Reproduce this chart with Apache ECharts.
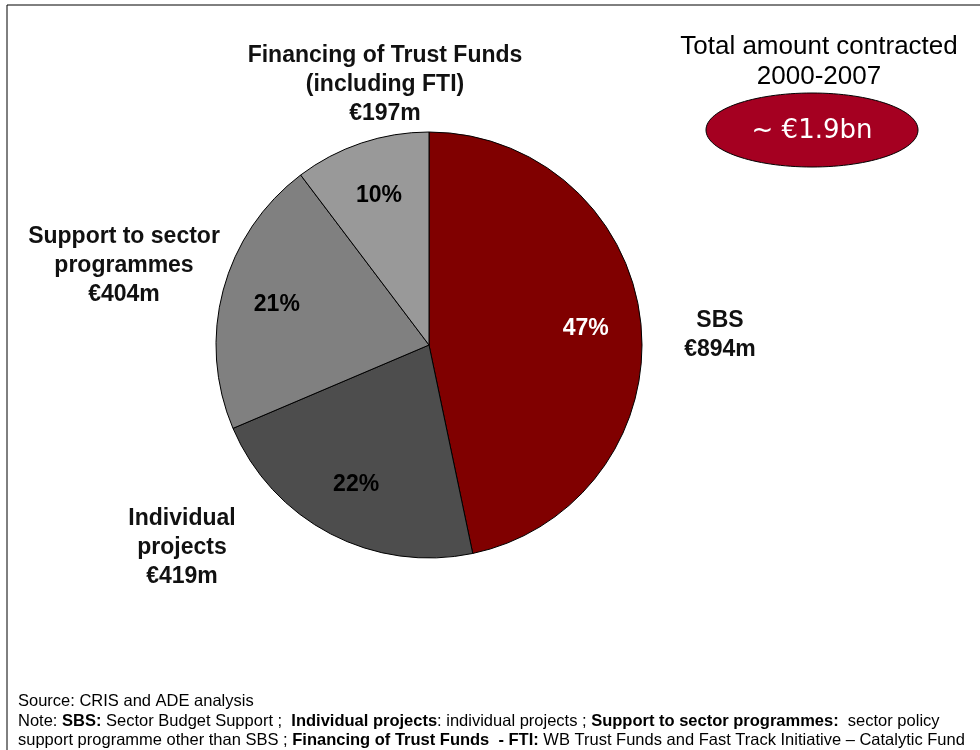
<!DOCTYPE html>
<html>
<head>
<meta charset="utf-8">
<script src="https://cdn.jsdelivr.net/npm/echarts@6/dist/echarts.min.js"></script>
<style>
  html, body { margin: 0; padding: 0; background: #fff; }
  #main { width: 980px; height: 750px; }
</style>
</head>
<body>
<div id="main"></div>
<script>
// contracted amounts 2000-2007, in € million
const categories = ['SBS', 'Individual projects', 'Support to sector programmes', 'Financing of Trust Funds (including FTI)']
const amounts = [894, 419, 404, 197]
const sliceColors = ['#800000', '#4d4d4d', '#808080', '#999999']
const totalLabel = '~ €1.9bn'

const chart = echarts.init(document.getElementById('main'))
const font = '"Liberation Sans", Arial, sans-serif'

const pieData = categories.map((name, i) => ({
    name: name,
    value: amounts[i],
    itemStyle: { color: sliceColors[i] },
}))

// same values, no colour, only to carry the percentage labels
const labelData = categories.map((name, i) => ({
    name: name,
    value: amounts[i],
    label: { color: i === 0 ? '#ffffff' : '#000000' },
}))

function boldLabel(text, x, y) {
    return {
        type: 'text',
        x: x,
        y: y,
        style: {
            text: text,
            font: 'bold 23px ' + font,
            fill: '#111',
            align: 'center',
            verticalAlign: 'middle',
            lineHeight: 29,
        },
    }
}

let option = {
    backgroundColor: '#ffffff',
    animation: false,
    series: [
        {
            type: 'pie',
            center: [429, 345],
            radius: [0, 213],
            startAngle: 90,
            clockwise: true,
            data: pieData,
            itemStyle: { borderColor: '#000', borderWidth: 1 },
            label: { show: false },
            labelLine: { show: false },
            emphasis: { disabled: true },
        },
        {
            type: 'pie',
            center: [429, 345],
            radius: [96, 213],
            startAngle: 90,
            silent: true,
            data: labelData,
            itemStyle: { color: 'rgba(0,0,0,0)', borderWidth: 0 },
            label: {
                show: true,
                position: 'inside',
                fontFamily: font,
                fontWeight: 'bold',
                fontSize: 23,
                formatter: (p) => Math.round(p.percent) + '%',
            },
            labelLine: { show: false },
        },
    ],
    graphic: [
        {
            type: 'rect',
            shape: { x: 7, y: 5, width: 1000, height: 800 },
            style: { fill: 'none', stroke: '#000', lineWidth: 1 },
            silent: true,
        },
        boldLabel('Financing of Trust Funds\n(including FTI)\n€' + amounts[3] + 'm', 385, 85),
        boldLabel('Support to sector\nprogrammes\n€' + amounts[2] + 'm', 124, 266),
        boldLabel('Individual\nprojects\n€' + amounts[1] + 'm', 182, 548),
        boldLabel(categories[0] + '\n€' + amounts[0] + 'm', 720, 335),
        {
            type: 'text',
            x: 819,
            y: 62,
            style: {
                text: 'Total amount contracted\n2000-2007',
                font: '26px ' + font,
                fill: '#000',
                align: 'center',
                verticalAlign: 'middle',
                lineHeight: 30,
            },
        },
        {
            type: 'ellipse',
            shape: { cx: 812, cy: 130, rx: 106, ry: 37 },
            style: { fill: '#a50021', stroke: '#000', lineWidth: 1 },
        },
        {
            type: 'text',
            x: 812,
            y: 131,
            style: {
                text: totalLabel,
                font: '26px "DejaVu Sans", Verdana, sans-serif',
                fill: '#fff',
                align: 'center',
                verticalAlign: 'middle',
            },
        },
        {
            type: 'text',
            x: 18,
            y: 692,
            style: {
                text: 'Source: CRIS and ADE analysis\n' +
                    'Note: {b|SBS:} Sector Budget Support ;  {b|Individual projects}: individual projects ; {b|Support to sector programmes:}  sector policy\n' +
                    'support programme other than SBS ; {b|Financing of Trust Funds  - FTI:} WB Trust Funds and Fast Track Initiative – Catalytic Fund',
                font: '16.5px ' + font,
                fill: '#000',
                lineHeight: 19.5,
                rich: {
                    b: { font: 'bold 16.5px ' + font, fill: '#000' },
                },
            },
        },
    ],
}

chart.setOption(option)
</script>
</body>
</html>
